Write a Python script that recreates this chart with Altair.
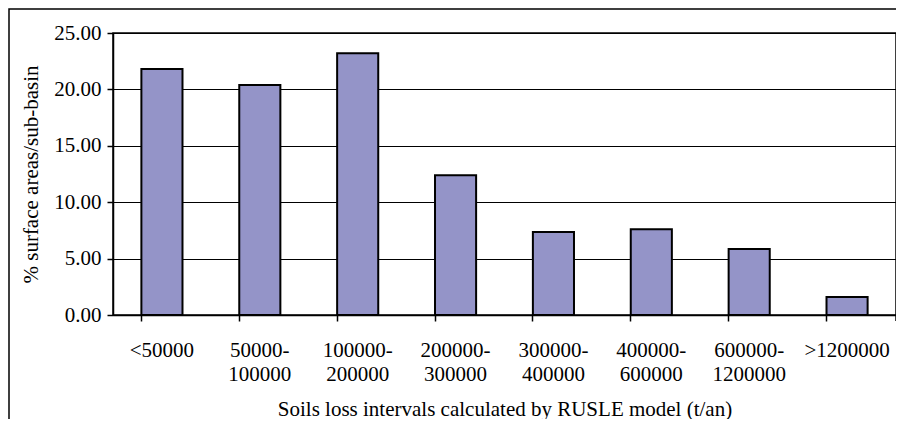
import altair as alt
import pandas as pd

categories = ["<50000", "50000-100000", "100000-200000", "200000-300000",
              "300000-400000", "400000-600000", "600000-1200000", ">1200000"]
values = [21.8, 20.4, 23.2, 12.4, 7.35, 7.6, 5.85, 1.6]
y_ticks = [0, 5, 10, 15, 20, 25]

df = pd.DataFrame({"cat": categories, "val": values})
one = pd.DataFrame({"k": [0]})

FONT = "Liberation Serif"
W, H = 783, 282

label_expr = ("indexof(datum.value, '-') > 0 ? "
              "[slice(datum.value, 0, indexof(datum.value, '-') + 1), "
              "slice(datum.value, indexof(datum.value, '-') + 1)] : datum.value")

bars = alt.Chart(df).mark_bar(
    color="#9494C8", stroke="black", strokeWidth=2
).encode(
    x=alt.X("cat:N", sort=categories,
            scale=alt.Scale(paddingInner=0.58, paddingOuter=0.29),
            axis=alt.Axis(title="Soils loss intervals calculated by RUSLE model (t/an)",
                          labelAngle=0, labelExpr=label_expr, bandPosition=0,
                          labelPadding=18, labelLineHeight=24, labelBaseline="top",
                          titlePadding=14, grid=False)),
    y=alt.Y("val:Q", scale=alt.Scale(domain=[0, 25], nice=False),
            axis=alt.Axis(title="% surface areas/sub-basin", values=y_ticks,
                          format=".2f", grid=True, gridColor="black", gridWidth=1,
                          gridOpacity=1, labelPadding=6, titlePadding=12)),
)

end_tick = alt.Chart(one).mark_rule(color="black", strokeWidth=1.5).encode(
    x=alt.value(W), y=alt.value(H), y2=alt.value(H + 6)
)

frame = alt.Chart(one).mark_rect(
    fill="transparent", stroke="black", strokeWidth=1.5
).encode(
    x=alt.value(-104), x2=alt.value(W + 30),
    y=alt.value(-24), y2=alt.value(H + 150),
)

chart = alt.layer(frame, bars, end_tick).properties(
    width=W, height=H, background="white",
    autosize=alt.AutoSizeParams(type="none"),
    padding={"left": 105, "top": 25, "right": 0, "bottom": 104},
).configure_view(
    stroke="black", strokeWidth=1.5
).configure_axis(
    labelFont=FONT, titleFont=FONT, labelFontSize=21, titleFontSize=21,
    labelColor="black", titleColor="black", titleFontWeight="normal",
    domainColor="black", domainWidth=1.5, tickColor="black", tickWidth=1.5,
    tickSize=6,
)

chart.save("out.html", embed_options={"renderer": "svg", "actions": False})
